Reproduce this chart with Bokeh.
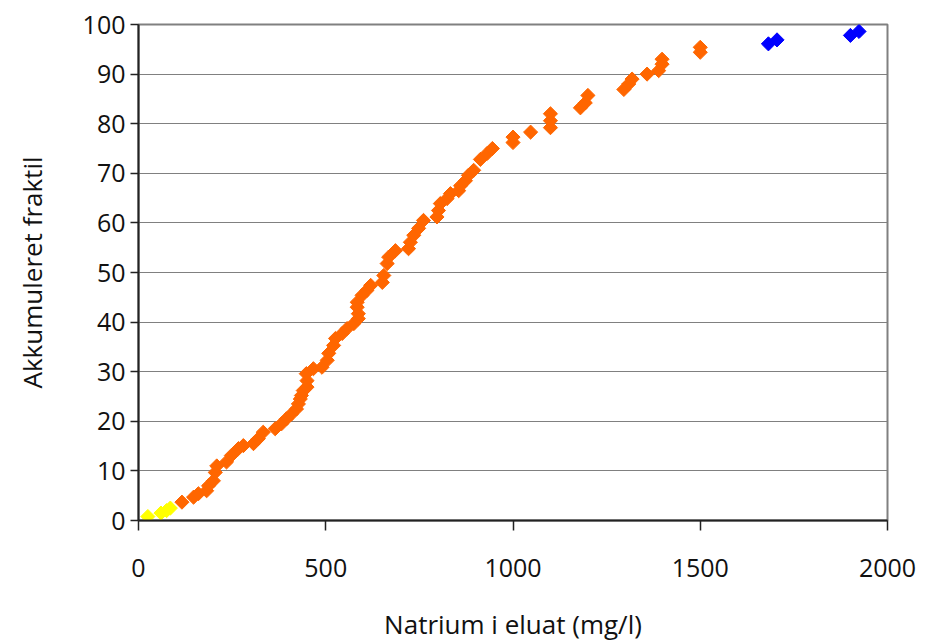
import math
from bokeh.plotting import figure
from bokeh.models import FixedTicker, Range1d
from bokeh.embed import file_html
from bokeh.resources import INLINE

# Data (Natrium i eluat vs. accumulated fractile)
yellow_x = [25, 60, 75, 85]
yellow_y = [0.8, 1.5, 2.0, 2.5]

orange_x = [116, 147, 160, 182, 187, 200, 205, 209, 235, 248, 267, 280, 307, 320,
            333, 365, 382, 395, 409, 422, 427, 432, 435, 440, 450, 450, 448, 467,
            490, 504, 508, 521, 526, 544, 557, 575, 587, 587, 584, 584, 597, 610,
            620, 651, 655, 664, 668, 686, 721, 726, 735, 748, 761, 797, 801, 806,
            824, 833, 855, 860, 873, 881, 895, 913, 931, 945, 1000, 1000, 1047,
            1100, 1100, 1100, 1180, 1193, 1200, 1296, 1309, 1318, 1358, 1389,
            1398, 1398, 1500, 1500]
orange_y = [3.7, 4.7, 5.4, 6.0, 7.0, 8.0, 9.7, 11.0, 11.8, 13.1, 14.5, 15.1, 15.5,
            16.5, 17.8, 18.5, 19.5, 20.5, 21.5, 22.5, 23.5, 24.5, 25.2, 26.2, 26.9,
            28.2, 29.6, 30.6, 30.9, 32.3, 33.7, 35.3, 36.7, 37.7, 38.7, 39.7, 40.7,
            41.7, 43.0, 44.0, 45.4, 46.4, 47.4, 48.0, 49.4, 51.8, 53.1, 54.4, 54.8,
            56.1, 57.5, 58.9, 60.5, 61.2, 62.5, 63.9, 64.9, 65.9, 66.5, 67.5, 68.5,
            69.6, 70.6, 72.8, 74.0, 75.0, 76.2, 77.3, 78.3, 79.2, 80.6, 82.0, 83.2,
            84.2, 85.7, 86.9, 88.0, 89.0, 90.0, 90.7, 92.0, 93.0, 94.4, 95.4]

blue_x = [1682, 1705, 1901, 1924]
blue_y = [96.1, 96.9, 97.8, 98.6]

x_ticks = [0, 500, 1000, 1500, 2000]
y_ticks = [0, 10, 20, 30, 40, 50, 60, 70, 80, 90, 100]

FONT = "Open Sans"

p = figure(width=931, height=644, output_backend="svg", toolbar_location=None,
           x_range=Range1d(0, 2000), y_range=Range1d(0, 100),
           min_border_left=138, min_border_right=44, min_border_top=24,
           min_border_bottom=124)

p.background_fill_color = "white"
p.border_fill_color = "white"
p.outline_line_color = "#808080"
p.outline_line_width = 2

p.xgrid.grid_line_color = None
p.ygrid.grid_line_color = "#808080"
p.ygrid.grid_line_width = 1.2

for ax in (p.xaxis[0], p.yaxis[0]):
    ax.axis_line_color = "#222222"
    ax.axis_line_width = 2
    ax.major_tick_line_color = "#222222"
    ax.major_tick_line_width = 1.5
    ax.minor_tick_line_color = None
    ax.major_label_text_font = FONT
    ax.major_label_text_font_size = "25px"
    ax.major_label_text_color = "#111111"
    ax.axis_label_text_font = FONT
    ax.axis_label_text_font_size = "26px"
    ax.axis_label_text_font_style = "normal"
    ax.axis_label_text_color = "#111111"

p.xaxis.ticker = FixedTicker(ticks=x_ticks)
p.yaxis.ticker = FixedTicker(ticks=y_ticks)
p.xaxis.major_tick_out = 10
p.xaxis.major_tick_in = 0
p.yaxis.major_tick_out = 8
p.yaxis.major_tick_in = 0
p.xaxis.major_label_standoff = 28
p.yaxis.major_label_standoff = 5
p.xaxis.axis_label = "Natrium i eluat (mg/l)"
p.yaxis.axis_label = "Akkumuleret fraktil"
p.xaxis.axis_label_standoff = 26
p.yaxis.axis_label_standoff = 30

ang = math.pi / 4
p.scatter(orange_x, orange_y, marker="square", size=10, angle=ang,
          fill_color="#FF6600", line_color="#FF6600")
p.scatter(yellow_x, yellow_y, marker="square", size=10, angle=ang,
          fill_color="#FFFF00", line_color="#FFFF00")
p.scatter(blue_x, blue_y, marker="square", size=10, angle=ang,
          fill_color="#0000FF", line_color="#0000FF")

open("out.html", "w").write(file_html(p, INLINE))
